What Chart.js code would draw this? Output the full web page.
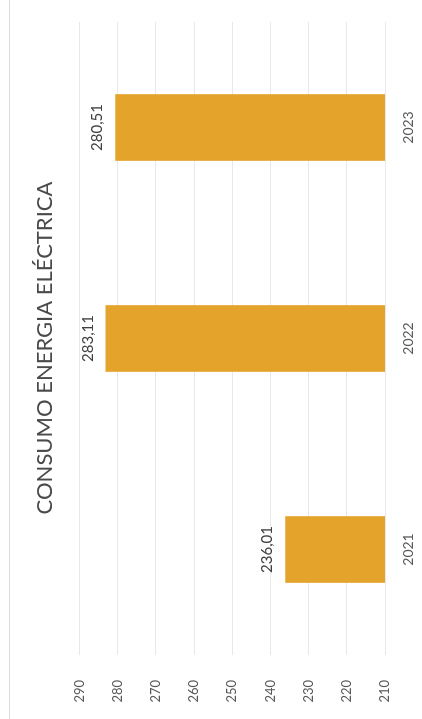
<!DOCTYPE html>
<html>
<head>
<meta charset="utf-8">
<script src="https://cdn.jsdelivr.net/npm/chart.js@4/dist/chart.umd.min.js"></script>
<style>
  html, body { margin: 0; padding: 0; background: #fff; }
  body { width: 422px; height: 719px; overflow: hidden; position: relative; }
  /* the scanned chart lies on its side: draw it upright, then turn it */
  #wrap {
    position: absolute; left: 0; top: 0;
    width: 719px; height: 422px;
    transform-origin: 0 0;
    transform: translate(0, 719px) rotate(-90deg);
  }
  #edge { position: absolute; left: 9px; top: 0; width: 1px; height: 719px; background: #dcdcdc; }
</style>
</head>
<body>
<div id="edge"></div>
<div id="wrap"><canvas id="chart"></canvas></div>
<script>
const years = ['2021', '2022', '2023'];
const consumo = [236.01, 283.11, 280.51];
const yMin = 210;
const yMax = 290;
const yStep = 10;

// etiquetas de valor encima de cada barra
const valueLabels = {
  id: 'valueLabels',
  afterLayout(chart) {
    // el título va algo desplazado hacia la derecha en el original
    if (chart.titleBlock) chart.titleBlock.left += 33;
  },
  afterDatasetsDraw(chart) {
    const ctx = chart.ctx;
    const meta = chart.getDatasetMeta(0);
    ctx.save();
    ctx.font = '15px Lato, "Open Sans", sans-serif';
    ctx.fillStyle = '#404040';
    ctx.textAlign = 'center';
    ctx.textBaseline = 'middle';
    meta.data.forEach(function (bar, i) {
      const txt = consumo[i].toFixed(2).replace('.', ',');
      ctx.fillText(txt, bar.x, bar.y - 18);
    });
    ctx.restore();
  }
};

const ctx = document.getElementById('chart').getContext('2d');
window.myChart = new Chart(ctx, {
  type: 'bar',
  data: {
    labels: years,
    datasets: [{
      label: 'Consumo',
      data: consumo,
      backgroundColor: '#E4A42C',
      borderWidth: 0,
      barThickness: 66
    }]
  },
  options: {
    responsive: true,
    maintainAspectRatio: false,
    animation: false,
    layout: { padding: { left: 12, right: 22, top: 0, bottom: 0 } },
    plugins: {
      legend: { display: false },
      tooltip: { enabled: false },
      title: {
        display: true,
        text: 'CONSUMO ENERGIA ELÉCTRICA',
        color: '#4a4a4a',
        font: { family: 'Lato, "Open Sans", sans-serif', size: 22, weight: 'normal' },
        padding: { top: 32, bottom: 21 }
      }
    },
    scales: {
      y: {
        min: yMin,
        max: yMax,
        afterFit: function (scale) { scale.width = 52; },
        ticks: {
          stepSize: yStep,
          padding: 25,
          color: '#595959',
          font: { family: 'Lato, "Open Sans", sans-serif', size: 13 }
        },
        grid: { color: '#e8e8e8', drawTicks: false },
        border: { display: false }
      },
      x: {
        afterFit: function (scale) { scale.height = 37; },
        ticks: {
          padding: 15,
          color: '#595959',
          font: { family: 'Lato, "Open Sans", sans-serif', size: 14 }
        },
        grid: { display: false, drawTicks: false },
        border: { display: false }
      }
    }
  },
  plugins: [valueLabels]
});
</script>
</body>
</html>
